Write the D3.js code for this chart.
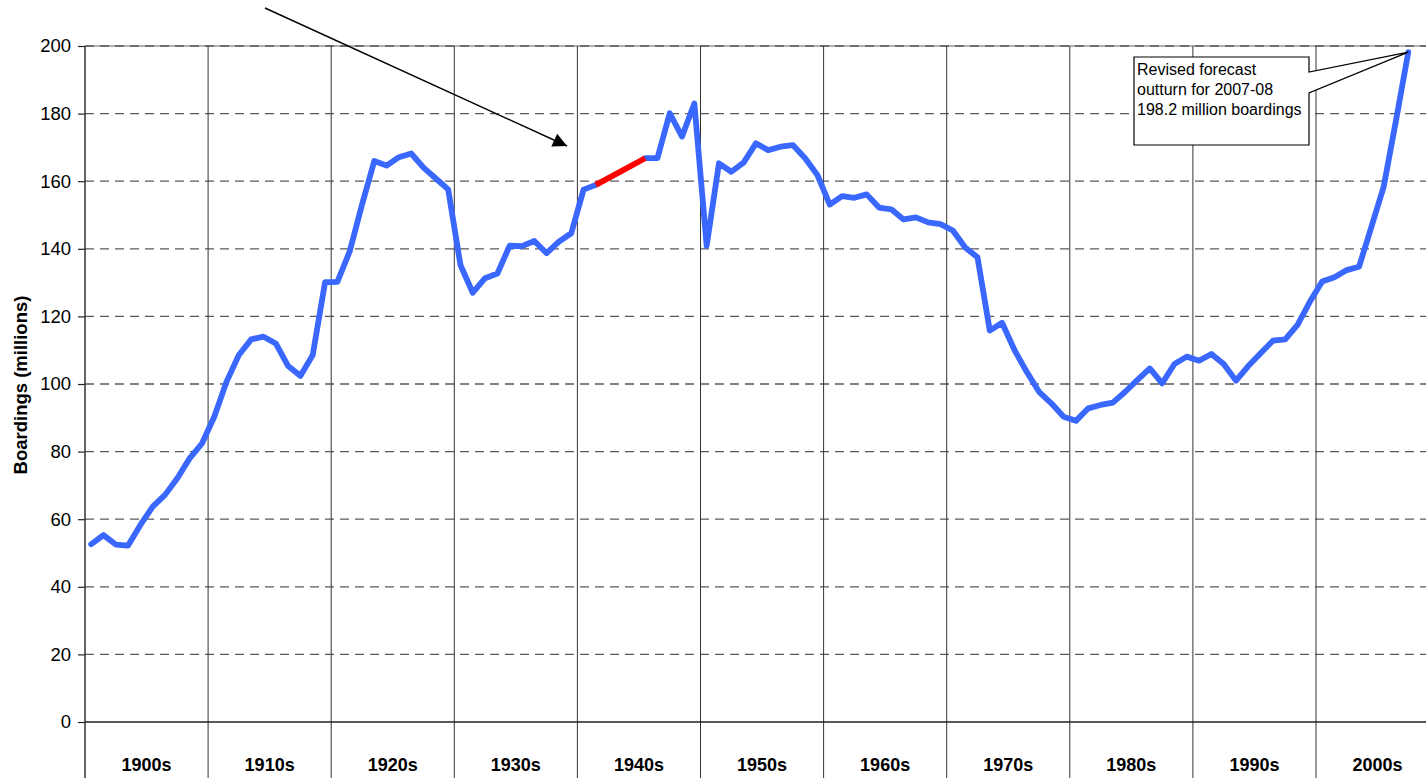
<!DOCTYPE html>
<html>
<head>
<meta charset="utf-8">
<script src="https://cdn.jsdelivr.net/npm/d3@7/dist/d3.min.js"></script>
<style>
  html, body { margin: 0; padding: 0; background: #fff; }
  svg { display: block; font-family: "Liberation Sans", Arial, Helvetica, sans-serif; }
</style>
</head>
<body>
<svg id="chart" width="1426" height="778"></svg>
<script>
// ---- data ----
const decades = ["1900s","1910s","1920s","1930s","1940s","1950s","1960s","1970s","1980s","1990s","2000s"];
const firstYear = 1900;
const slotsPerDecade = 10;
// Boardings (millions), one value per year from 1900 to 2007; 1942-44 missing
const boardings = [
  52.6, 55.3, 52.5, 52.2, 58.3, 63.7, 67.2, 72.1, 78.0, 82.4,
  90.3, 100.7, 108.6, 113.2, 114.0, 112.0, 105.3, 102.4, 108.6, 130.1,
  130.2, 139.2, 153.0, 166.0, 164.6, 167.1, 168.2, 164.0, 160.8, 157.6,
  135.2, 127.0, 131.3, 132.7, 140.9, 140.8, 142.3, 138.7, 142.1, 144.6,
  157.5, 158.9, null, null, null, 166.8, 166.8, 180.1, 173.2, 183.0,
  140.9, 165.3, 162.8, 165.5, 171.2, 169.2, 170.2, 170.7, 166.8, 161.8,
  153.1, 155.6, 155.1, 156.1, 152.2, 151.7, 148.7, 149.3, 147.8, 147.3,
  145.4, 140.4, 137.5, 115.8, 118.1, 110.1, 103.6, 97.7, 94.3, 90.3,
  89.1, 92.8, 93.8, 94.5, 97.7, 101.2, 104.6, 100.2, 105.9, 108.1,
  106.9, 108.9, 105.9, 101.0, 105.3, 109.1, 112.8, 113.2, 117.5, 124.3,
  130.3, 131.6, 133.7, 134.7, 146.5, 158.4, 178.0, 198.2
];
// estimated bridge across the missing war years (drawn in red)
const bridgeYears = [1941, 1945];
const yTicks = [0, 20, 40, 60, 80, 100, 120, 140, 160, 180, 200];
const yTitle = "Boardings (millions)";
const noteLines = ["Revised forecast", "outturn for 2007-08", "198.2 million boardings"];
const noteYear = 2007;

(function () {
// ---- layout ----
const svg = d3.select("#chart");
const plotLeft = 85, plotTop = 46, plotBottom = 722, svgH = 778, svgW = 1426;
const slotW = 12.31;
const nSlots = decades.length * slotsPerDecade;
const slots = d3.range(nSlots).map(i => firstYear + i);

const x = d3.scaleBand().domain(slots).range([plotLeft, plotLeft + nSlots * slotW]).paddingInner(0).paddingOuter(0);
const xc = yr => x(yr) + x.bandwidth() / 2;
const y = d3.scaleLinear().domain([0, 200]).range([plotBottom, plotTop]);

const series = boardings.map((v, i) => ({ year: firstYear + i, value: v }));

// horizontal gridlines
const grid = svg.append("g");
grid.append("line")
  .attr("x1", plotLeft).attr("x2", svgW).attr("y1", y(200)).attr("y2", y(200))
  .attr("stroke", "#b0b0b0").attr("stroke-width", 2);
grid.selectAll("line.h").data(yTicks.filter(t => t > 0)).enter().append("line")
  .attr("class", "h")
  .attr("x1", plotLeft).attr("x2", svgW)
  .attr("y1", d => y(d)).attr("y2", d => y(d))
  .attr("stroke", "#5a5a5a").attr("stroke-width", 1.3)
  .attr("stroke-dasharray", "9,6");

// decade separators (run through the category label area)
const decadeStarts = decades.map((d, i) => firstYear + i * slotsPerDecade);
grid.selectAll("line.v").data(decadeStarts.slice(1)).enter().append("line")
  .attr("class", "v")
  .attr("x1", d => x(d)).attr("x2", d => x(d))
  .attr("y1", plotTop).attr("y2", svgH)
  .attr("stroke", "#333").attr("stroke-width", 1);

// y axis
const yAxis = d3.axisLeft(y).tickValues(yTicks).tickSize(7).tickPadding(7).tickFormat(d3.format("d"));
const ya = svg.append("g").attr("transform", `translate(${plotLeft},0)`).call(yAxis);
ya.select(".domain").remove();
ya.selectAll(".tick line").attr("stroke", "#222").attr("stroke-width", 1.2);
ya.selectAll(".tick text").attr("font-size", 18.5).attr("fill", "#000")
  .attr("font-family", "'Liberation Sans', Arial, sans-serif");
svg.append("line").attr("x1", plotLeft).attr("x2", plotLeft).attr("y1", plotTop).attr("y2", svgH)
  .attr("stroke", "#333").attr("stroke-width", 1.5);

// x axis line
svg.append("line").attr("x1", plotLeft).attr("x2", svgW).attr("y1", y(0)).attr("y2", y(0))
  .attr("stroke", "#222").attr("stroke-width", 1.6);

// decade labels
svg.append("g").selectAll("text").data(decades).enter().append("text")
  .attr("x", (d, i) => x(decadeStarts[i]) + slotW * slotsPerDecade / 2)
  .attr("y", 771)
  .attr("text-anchor", "middle")
  .attr("font-size", 18).attr("font-weight", "bold")
  .text(d => d);

// y title
svg.append("text")
  .attr("transform", "translate(27,385) rotate(-90)")
  .attr("text-anchor", "middle")
  .attr("font-size", 18.5).attr("font-weight", "bold")
  .text(yTitle);

// data line
const line = d3.line()
  .defined(d => d.value !== null)
  .x(d => xc(d.year)).y(d => y(d.value));
svg.append("path").datum(series)
  .attr("d", line)
  .attr("fill", "none").attr("stroke", "#3a68ff").attr("stroke-width", 5.8)
  .attr("stroke-linejoin", "round").attr("stroke-linecap", "round");

// red bridge across missing years
const bridge = series.filter(d => bridgeYears.includes(d.year));
svg.append("path").datum(bridge)
  .attr("d", line)
  .attr("fill", "none").attr("stroke", "#ff0000").attr("stroke-width", 5.8)
  .attr("stroke-linecap", "butt");

// arrow annotation
const defs = svg.append("defs");
defs.append("marker").attr("id", "ah")
  .attr("viewBox", "0 0 10 10").attr("refX", 10).attr("refY", 5)
  .attr("markerWidth", 16).attr("markerHeight", 14).attr("markerUnits", "userSpaceOnUse")
  .attr("orient", "auto")
  .append("path").attr("d", "M0,0 L10,5 L0,10 Z").attr("fill", "#000");
svg.append("line")
  .attr("x1", 265).attr("y1", 8).attr("x2", 567).attr("y2", 146)
  .attr("stroke", "#000").attr("stroke-width", 1.4)
  .attr("marker-end", "url(#ah)");

// callout box
const px = xc(noteYear), py = y(boardings[noteYear - firstYear]);
const bx = 1134, by = 57, bw = 175, bh = 88;
svg.append("path")
  .attr("d", `M${bx},${by} H${bx + bw} V${by + 15} L${px},${py} L${bx + bw},${by + 36} V${by + bh} H${bx} Z`)
  .attr("fill", "#fff").attr("stroke", "#000").attr("stroke-width", 1.2);
svg.append("g").selectAll("text").data(noteLines).enter().append("text")
  .attr("x", bx + 3).attr("y", (d, i) => by + 18 + i * 20)
  .attr("font-size", 16).attr("fill", "#000")
  .text(d => d);
})();
</script>
</body>
</html>
